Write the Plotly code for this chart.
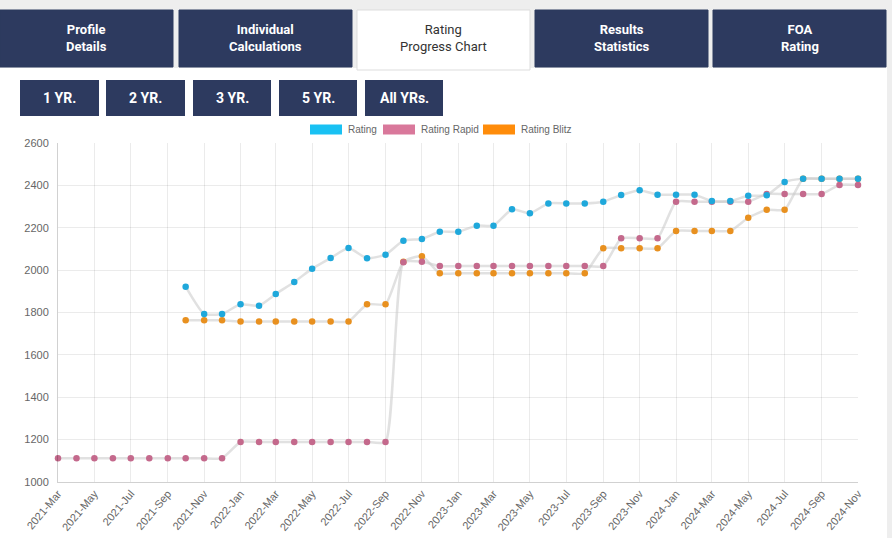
import pandas as pd
import plotly.graph_objects as go

# ---------------- data ----------------
months_all = [d.strftime("%Y-%m-01") for d in pd.date_range("2021-03-01", "2024-11-01", freq="MS")]
months_std = [d.strftime("%Y-%m-01") for d in pd.date_range("2021-10-01", "2024-11-01", freq="MS")]

rating = [1922, 1793, 1793,
          1839, 1832, 1887, 1944, 2007, 2057, 2104, 2056, 2073, 2139, 2147, 2181,
          2181, 2210, 2210, 2287, 2268, 2315, 2315, 2315, 2323, 2354, 2377, 2356,
          2356, 2356, 2326, 2326, 2351, 2353, 2416, 2431, 2431, 2431, 2431]

rating_rapid = [1112] * 10 + [1189] * 9 + [2037, 2040, 2019] + [2019] * 9 + [2150] * 3 \
               + [2323] * 5 + [2359] * 4 + [2402] * 2

rating_blitz = [1763] * 3 + [1757] * 7 + [1839] * 2 + [2040, 2066] + [1985] * 9 \
               + [2103] * 4 + [2185] * 4 + [2247] + [2285] * 2 + [2431] * 4

tab_labels = ["Profile<br>Details", "Individual<br>Calculations", "Rating<br>Progress Chart",
              "Results<br>Statistics", "FOA<br>Rating"]
button_labels = ["1 YR.", "2 YR.", "3 YR.", "5 YR.", "All YRs."]
legend_labels = ["Rating", "Rating Rapid", "Rating Blitz"]
tick_dates = [d.strftime("%Y-%m-01") for d in pd.date_range("2021-03-01", "2024-11-01", freq="2MS")]
tick_text = [pd.Timestamp(d).strftime("%Y-%b") for d in tick_dates]

# ---------------- layout geometry (pixels) ----------------
W, H = 892, 538
L, R, T, B = 58, 34, 143, 56
PW, PH = W - L - R, H - T - B
NAVY = "#2d3a5f"
FONT = "Roboto"


def px(x):
    return (x - L) / PW


def py(y):
    return (H - B - y) / PH


fig = go.Figure()

series = [
    (legend_labels[2], months_std, rating_blitz, "#e8901f"),
    (legend_labels[1], months_all, rating_rapid, "#c4698c"),
    (legend_labels[0], months_std, rating, "#1fa8db"),
]
for name, xs, ys, col in series:
    fig.add_trace(go.Scatter(
        x=xs, y=ys, name=name, mode="lines+markers",
        line=dict(color="rgba(200,200,200,0.55)", width=2.5, shape="spline", smoothing=0.5),
        marker=dict(color=col, size=6.5, line=dict(width=0)),
        cliponaxis=False, showlegend=False,
    ))

shapes = []
annotations = []

# page background pieces
shapes.append(dict(type="rect", xref="paper", yref="paper", x0=px(0), x1=px(W), y0=py(0), y1=py(68),
                   fillcolor="#eeeeee", line=dict(width=0), layer="below"))
shapes.append(dict(type="rect", xref="paper", yref="paper", x0=px(887), x1=px(W), y0=py(0), y1=py(H),
                   fillcolor="#eeeeee", line=dict(width=0), layer="below"))

# tabs
tab_x = [(0, 173), (179, 352), (357, 530), (535, 708), (713, 886)]
for i, ((x0, x1), lab) in enumerate(zip(tab_x, tab_labels)):
    active = (i == 2)
    shapes.append(dict(type="rect", xref="paper", yref="paper", x0=px(x0), x1=px(x1),
                       y0=py(67 if not active else 70), y1=py(10),
                       fillcolor="white" if active else NAVY,
                       line=dict(color="#dddddd" if active else NAVY, width=1)))
    if active:
        txt = lab
        fnt = dict(family=FONT, size=13, color="#333333")
    else:
        txt = "<b>" + lab.replace("<br>", "</b><br><b>") + "</b>"
        fnt = dict(family=FONT, size=13, color="white")
    annotations.append(dict(x=px((x0 + x1) / 2), y=py(38), xref="paper", yref="paper",
                            text=txt, showarrow=False, font=fnt, xanchor="center", yanchor="middle",
                            align="center"))

# buttons
btn_x = [(20, 99), (106, 185), (193, 271), (279, 357), (365, 443)]
for (x0, x1), lab in zip(btn_x, button_labels):
    shapes.append(dict(type="rect", xref="paper", yref="paper", x0=px(x0), x1=px(x1),
                       y0=py(116), y1=py(80), fillcolor=NAVY, line=dict(width=0)))
    annotations.append(dict(x=px((x0 + x1) / 2), y=py(98), xref="paper", yref="paper",
                            text="<b>" + lab + "</b>", showarrow=False,
                            font=dict(family=FONT, size=14, color="white"),
                            xanchor="center", yanchor="middle"))

# custom legend (boxes + text)
leg_box_x = [310, 383, 483]
leg_cols = ["#19c1f3", "#d9789b", "#ff8c0a"]
for bx, lab, col in zip(leg_box_x, legend_labels, leg_cols):
    shapes.append(dict(type="rect", xref="paper", yref="paper", x0=px(bx), x1=px(bx + 32),
                       y0=py(134.5), y1=py(124.5), fillcolor=col, line=dict(width=0)))
    annotations.append(dict(x=px(bx + 36), y=py(129.5), xref="paper", yref="paper",
                            text=lab, showarrow=False,
                            font=dict(family="Liberation Sans", size=10, color="#666666"),
                            xanchor="left", yanchor="middle"))

fig.update_layout(
    width=W, height=H,
    margin=dict(l=L, r=R, t=T, b=B, autoexpand=False),
    paper_bgcolor="white", plot_bgcolor="white",
    shapes=shapes, annotations=annotations,
    showlegend=False,
    xaxis=dict(type="date", range=["2021-03-01", "2024-11-01"], automargin=False,
               tickvals=tick_dates, ticktext=tick_text, tickangle=-50,
               tickfont=dict(family="Liberation Sans", size=11, color="#666666"),
               showgrid=True, gridcolor="rgba(0,0,0,0.08)", gridwidth=1,
               showline=True, linecolor="rgba(0,0,0,0.18)", linewidth=1,
               ticks="", zeroline=False),
    yaxis=dict(range=[1000, 2600], dtick=200, tick0=1000, automargin=False,
               tickfont=dict(family="Liberation Sans", size=11, color="#666666"),
               showgrid=True, gridcolor="rgba(0,0,0,0.08)", gridwidth=1,
               showline=True, linecolor="rgba(0,0,0,0.18)", linewidth=1,
               ticks="", ticklabelstandoff=6, zeroline=False),
)

fig.write_html("out.html")
